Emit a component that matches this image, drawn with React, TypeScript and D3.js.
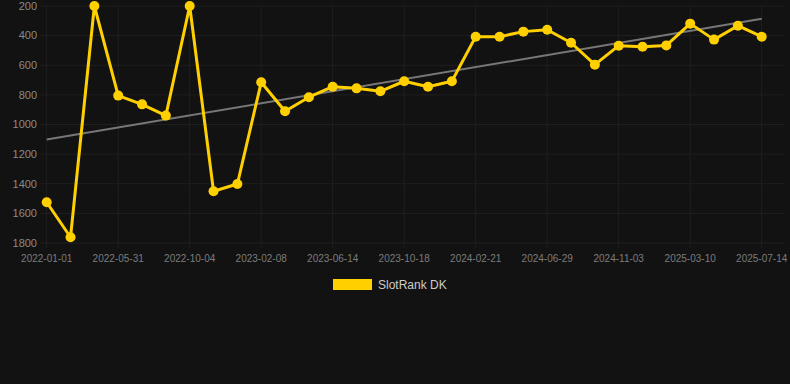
import React from "react";
import * as d3 from "d3";

const dates = [
  "2022-01-01", "2022-02-19", "2022-04-10", "2022-05-31", "2022-07-12", "2022-08-23",
  "2022-10-04", "2022-11-15", "2022-12-28", "2023-02-08", "2023-03-22", "2023-05-03",
  "2023-06-14", "2023-07-26", "2023-09-06", "2023-10-18", "2023-11-29", "2024-01-10",
  "2024-02-21", "2024-04-04", "2024-05-17", "2024-06-29", "2024-08-10", "2024-09-22",
  "2024-11-03", "2024-12-15", "2025-01-27", "2025-03-10", "2025-04-21", "2025-06-02",
  "2025-07-14",
];
const ranks = [
  1525, 1761, 200, 805, 864, 940, 200, 1451, 1402, 715, 911, 816, 745, 756, 776, 708,
  745, 708, 407, 407, 373, 360, 448, 596, 468, 475, 466, 319, 427, 333, 407,
];
const yTicks = [200, 400, 600, 800, 1000, 1200, 1400, 1600, 1800];
const xTickLabels = [
  "2022-01-01", "2022-05-31", "2022-10-04", "2023-02-08", "2023-06-14", "2023-10-18",
  "2024-02-21", "2024-06-29", "2024-11-03", "2025-03-10", "2025-07-14",
];
const seriesName = "SlotRank DK";

export default function App() {
  const W = 790, H = 384;
  const x = d3.scalePoint<string>().domain(dates).range([46.7, 761.7]);
  const y = d3.scaleLinear().domain([200, 1800]).range([6, 243]);

  const idx = ranks.map((_, i) => i);
  const mx = d3.mean(idx)!, my = d3.mean(ranks)!;
  const slope = d3.sum(idx, (i) => (i - mx) * (ranks[i] - my)) / d3.sum(idx, (i) => (i - mx) ** 2);
  const icpt = my - slope * mx;
  const trend = [0, dates.length - 1].map((i) => [x(dates[i])!, y(icpt + slope * i)]);

  const line = d3.line<number>().x((_, i) => x(dates[i])!).y((d) => y(d));
  const font = "Arial, 'Liberation Sans', sans-serif";

  return (
    <svg width={W} height={H} style={{ position: "absolute", left: 0, top: 0, background: "#121212" }}>
      <rect width={W} height={H} fill="#121212" />
      {yTicks.map((t) => (
        <g key={t}>
          <line x1={40} x2={785} y1={y(t)} y2={y(t)} stroke="#1f1f1f" strokeWidth={1} />
          <text x={37} y={y(t)} dy="0.35em" textAnchor="end" fill="#8a8a8a" fontSize={11} fontFamily={font}>{t}</text>
        </g>
      ))}
      {xTickLabels.map((d) => (
        <g key={d}>
          <line x1={x(d)!} x2={x(d)!} y1={6} y2={248} stroke="#1f1f1f" strokeWidth={1} />
          <text x={x(d)!} y={262} textAnchor="middle" fill="#7c7c7c" fontSize={10} fontFamily={font}>{d}</text>
        </g>
      ))}
      <line x1={trend[0][0]} y1={trend[0][1]} x2={trend[1][0]} y2={trend[1][1]} stroke="#777" strokeWidth={2} />
      <path d={line(ranks)!} fill="none" stroke="#FFD000" strokeWidth={3} strokeLinejoin="round" />
      {ranks.map((v, i) => (
        <circle key={i} cx={x(dates[i])!} cy={y(v)} r={5} fill="#FFD000" />
      ))}
      <rect x={333} y={279} width={39} height={11} fill="#FFD000" />
      <text x={378} y={285} dy="0.35em" fill="#cccccc" fontSize={12} fontFamily={font}>{seriesName}</text>
    </svg>
  );
}
